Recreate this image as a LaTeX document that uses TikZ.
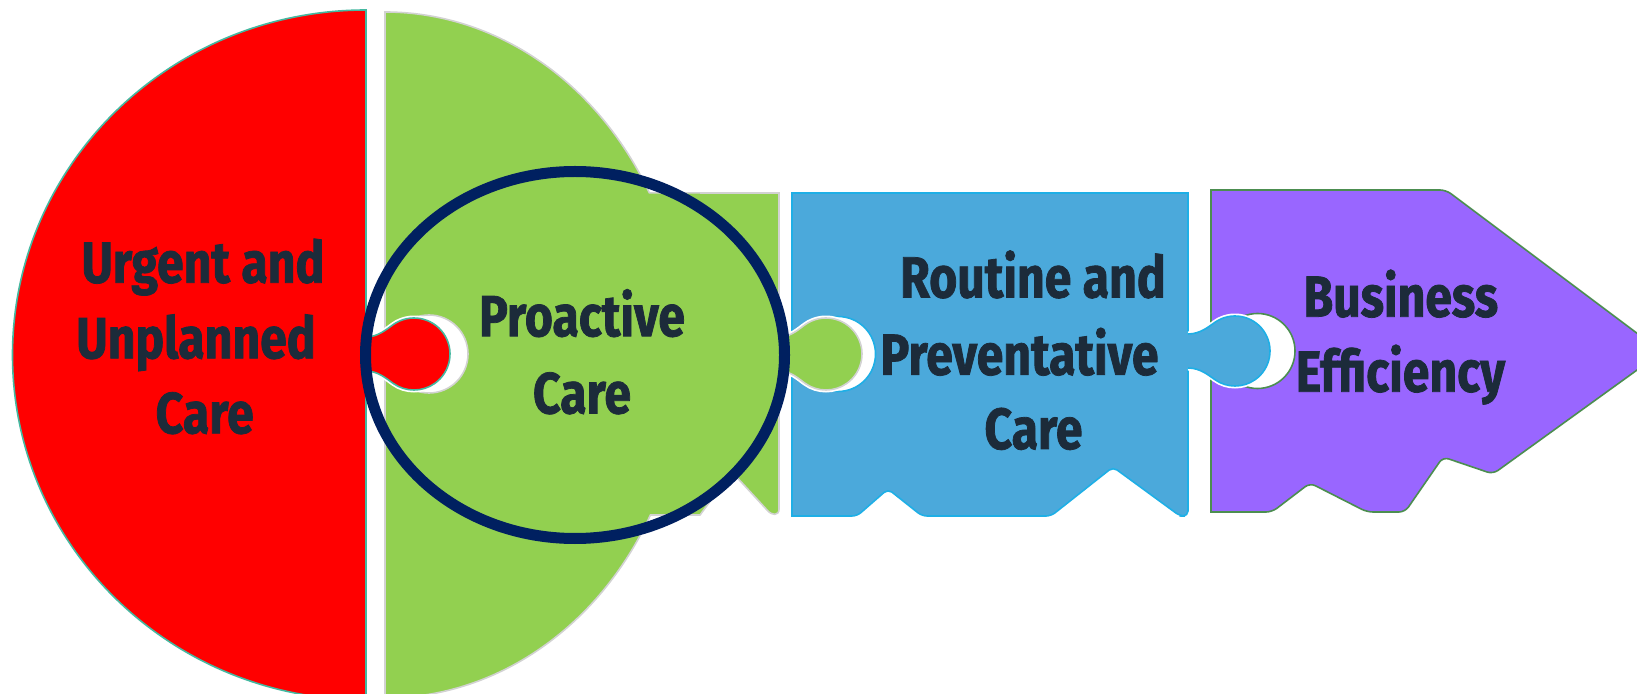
\documentclass[tikz,border=0pt]{standalone}
\usepackage{fontspec}
\newfontfamily\lblfont{Fira Sans}[FakeStretch=0.83, BoldFeatures={FakeBold=1.3}]
\definecolor{redc}{HTML}{FF0000}
\definecolor{redline}{HTML}{44B8A0}
\definecolor{greenc}{HTML}{92D050}
\definecolor{greenline}{HTML}{D2D2D2}
\definecolor{bluec}{HTML}{4BA9DB}
\definecolor{blueline}{HTML}{1EAFE6}
\definecolor{purplec}{HTML}{9966FF}
\definecolor{purpleline}{HTML}{4C8E50}
\definecolor{ringc}{HTML}{002060}
\definecolor{textc}{HTML}{1C2B3A}
% puzzle tab: #1 edge x, #2 centre y, #3 knob centre x, #4 knob radius, #5 neck half width
\newcommand\pzltab[5]{%
 -- ({#1},{#2-#5}) .. controls ({#1+12},{#2-#5}) and ({#3-0.574*#4-6.6},{#2-0.819*#4+4.6}) .. ({#3-0.574*#4},{#2-0.819*#4})
 arc[start angle=-125, end angle=125, radius=#4]
 .. controls ({#3-0.574*#4-6.6},{#2+0.819*#4-4.6}) and ({#1+12},{#2+#5}) .. ({#1},{#2+#5})}
\tikzset{
  lbl/.style={font=\lblfont\bfseries\fontsize{29}{35}\selectfont, text=textc, inner sep=0pt, anchor=base},
  sockwhite/.style={fill=white, draw=white, line width=2.5pt},
}
\begin{document}
\begin{tikzpicture}[x=0.5pt, y=-0.5pt]
\useasboundingbox (0,0) rectangle (1637,694);
\fill[white] (0,0) rectangle (1637,694);
\clip (0,0) rectangle (1637,694);

% green body
\filldraw[fill=greenc, draw=greenline, line width=0.8pt]
  (385,12) arc[start angle=-90, end angle=-28.2, x radius=300, y radius=343]
  -- (779,193) -- (779,509) .. controls (779,516) and (772,516) .. (767,510)
  -- (732,472) -- (700,515) -- (650.4,515)
  arc[start angle=27.8, end angle=90, x radius=300, y radius=343] -- cycle;

% blue body
\filldraw[fill=bluec, draw=blueline, line width=0.8pt]
  (792,300) -- (792,193) -- (1188,193) -- (1188,470) [rounded corners=2.5pt] -- (1188,516)
  -- (1180,516) -- (1113,467) -- (1051,516) -- (922,516) -- (888,489) -- (857,516)
  -- (830,516) [sharp corners] -- (792,516) -- cycle;

% purple body
\filldraw[fill=purplec, draw=purpleline, line width=0.8pt]
  (1211,300) -- (1211,190) -- (1300,190) [rounded corners=3pt] -- (1446,190) -- (1662,352)
  -- (1493,474) -- (1443,457) -- (1405,512) -- (1367,512) -- (1310,483) -- (1272,512)
  -- (1240,512) [sharp corners] -- (1211,512) -- cycle;

% sockets
\filldraw[fill=white, draw=greenline, line width=0.8pt] (429,354) circle[radius=39];
\path[sockwhite] (385,337) \pzltab{366}{354}{414}{36}{17} -- (385,371) -- cycle;
\filldraw[fill=white, draw=blueline, line width=0.8pt] (838,354) circle[radius=37.5];
\path[sockwhite] (792,337) \pzltab{779}{354}{826}{36}{17} -- (792,371) -- cycle;
\filldraw[fill=white, draw=purpleline, line width=0.8pt] (1257.5,351) circle[radius=37.5];
\path[sockwhite] (1211,334) \pzltab{1188}{351}{1235}{35}{17} -- (1211,368) -- cycle;

% red piece
\filldraw[fill=redc, draw=redline, line width=0.8pt]
  (366,10) \pzltab{366}{354}{414}{36}{17} -- (366,700)
  arc[start angle=90, end angle=270, x radius=353.5, y radius=345] -- cycle;

% green tab
\fill[greenc] (770,337) \pzltab{779}{354}{826}{36}{17} -- (770,371) -- cycle;
\draw[greenline, line width=0.8pt] (779,337) \pzltab{779}{354}{826}{36}{17};

% blue tab
\fill[bluec] (1180,334) \pzltab{1188}{351}{1235}{35}{17} -- (1180,368) -- cycle;
\draw[blueline, line width=0.8pt] (1188,334) \pzltab{1188}{351}{1235}{35}{17};

% ring
\draw[ringc, line width=5.5pt] (575,355) ellipse[x radius=209.5, y radius=183.5];

% texts
\node[lbl] (u1) at (203,282.7) {Urgent and};
\node[lbl] (u2) at (196,358.3) {Unplanned};
\node[lbl] (u3) at (204.7,433.3) {Care};
\node[lbl] (p1) at (582,336.2) {Proactive};
\node[lbl] (p2) at (582,413.4) {Care};
\node[lbl] (r1) at (1033,297.5) {Routine and};
\node[lbl] (r2) at (1019.5,374.8) {Preventative};
\node[lbl] (r3) at (1033.5,449) {Care};
\node[lbl] (b1) at (1400.8,316.7) {Business};
\node[lbl] (b2) at (1400.5,391.7) {Efficiency};
\end{tikzpicture}
\end{document}
